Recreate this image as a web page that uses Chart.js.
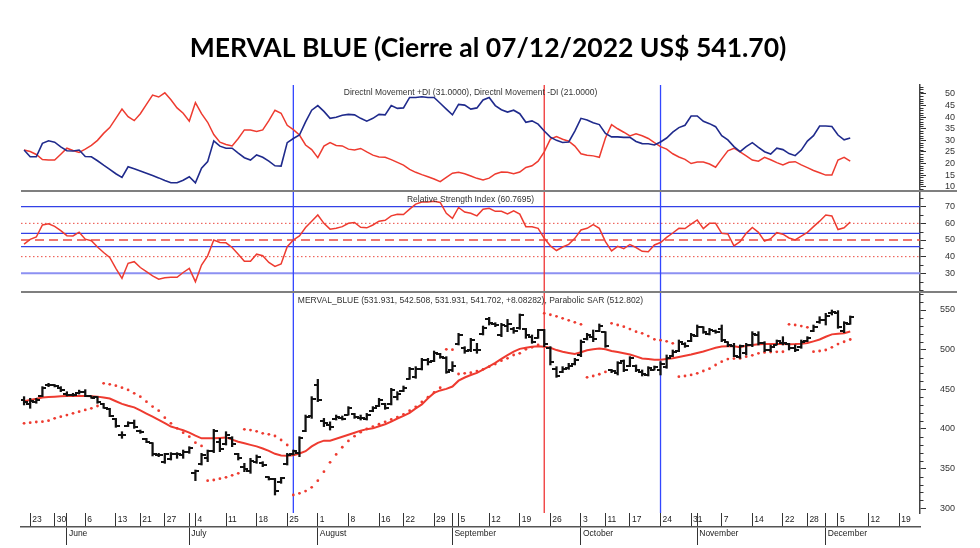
<!DOCTYPE html>
<html><head><meta charset="utf-8">
<script src="https://cdn.jsdelivr.net/npm/chart.js@4.4.0/dist/chart.umd.min.js"></script>
<style>html,body{margin:0;padding:0;background:#fff;}canvas{display:block;}</style>
</head><body>
<canvas id="c" width="980" height="548"></canvas>
<script>
const titleText = 'MERVAL BLUE (Cierre al 07/12/2022 US$ 541.70)';
const diLabel = 'Directnl Movement +DI (31.0000), Directnl Movement -DI (21.0000)';
const rsiLabel = 'Relative Strength Index (60.7695)';
const priceLabel = 'MERVAL_BLUE (531.931, 542.508, 531.931, 541.702, +8.08282), Parabolic SAR (512.802)';
const year = 2022;
const monthNames = ['January','February','March','April','May','June','July','August','September','October','November','December'];

// trading days (MM-DD)
const dates = ['05-20','05-23','05-24','05-26','05-27','05-30','05-31',
'06-01','06-02','06-03','06-06','06-07','06-08','06-09','06-10','06-13','06-14','06-15','06-16','06-21','06-22','06-23','06-24','06-27','06-28','06-29','06-30',
'07-01','07-04','07-05','07-06','07-07','07-08','07-11','07-12','07-13','07-14','07-15','07-18','07-19','07-20','07-21','07-22','07-25','07-26','07-27','07-28','07-29',
'08-01','08-02','08-03','08-04','08-05','08-08','08-09','08-10','08-11','08-12','08-16','08-17','08-18','08-19','08-22','08-23','08-24','08-25','08-26','08-29','08-30','08-31',
'09-01','09-05','09-06','09-07','09-08','09-09','09-12','09-13','09-14','09-15','09-16','09-19','09-20','09-21','09-22','09-23','09-26','09-27','09-28','09-29','09-30',
'10-03','10-04','10-05','10-06','10-11','10-12','10-13','10-14','10-17','10-18','10-19','10-20','10-21','10-24','10-25','10-26','10-27','10-28','10-31',
'11-01','11-02','11-03','11-04','11-07','11-08','11-09','11-10','11-11','11-14','11-15','11-16','11-17','11-18','11-22','11-23','11-24','11-25','11-28','11-29','11-30',
'12-01','12-02','12-05','12-06','12-07'];
const futureDates = ['12-08','12-09','12-12','12-13','12-14','12-15','12-16','12-19','12-20','12-21','12-22','12-23'];

const open = [436,432,434,441,455,455,452,444,443,445,
447,441,440,432,425,412,393,404,408,398,
388,382,367,358,362,368,367,371,344,356,
364,372,384,381,389,368,352,347,359,357,
339,337,333,356,369,370,398,416,455,410,
405,413,414,418,419,414,413,423,429,431,
432,440,448,463,465,476,487,486,494,489,
474,507,502,500,500,520,539,532,518,530,
526,527,526,516,515,525,502,476,472,477,
482,493,513,516,524,522,474,470,486,480,
479,472,468,475,474,478,492,498,507,511,
517,528,520,524,526,510,505,491,496,506,
519,508,500,506,509,507,502,503,511,524,
535,537,546,546,524,531.931];
const high = [440.8,438.7,438.7,453.4,457.6,456,453.4,447,445,449,
449.6,441.6,440.8,432.4,426.1,413.4,396.6,409.2,411.3,398.7,
388.2,382.8,369.3,369.3,370.2,370.2,373.5,377.7,348.3,369.3,
373.5,399.6,388.2,396.6,390.3,369.3,356.7,363,367.2,358.8,
339.9,337.8,339,369.3,373.5,390.3,417.6,440.8,462.6,413.4,
409,417.6,416.4,428.2,419.7,417.6,419.7,428.2,438.7,432.4,
451.3,447.1,454.2,477.7,478.6,489.1,489.1,498.3,495.4,491.2,
484.9,520.6,503.8,514.3,508,529.8,540.8,534,533.2,538.2,
528.2,545,526.9,518.5,525.6,525.6,503.8,478.6,478.6,482.8,
489.1,512.2,520.6,524.8,532.4,522.7,475.2,484.9,487,491.2,
480.7,474.4,478.6,479.4,484.9,493.3,499.6,512.2,508.8,520.6,
531.1,529,526.9,524.8,531.1,510.1,508,505.9,508,522.7,
522.7,510.1,505.9,512.2,516.4,508,505.9,512.2,516.4,531.1,
541.6,545.8,550,549.2,535.3,542.508];
const low = [430.3,426.1,432.4,440.8,453.4,453,447.1,441.6,441.6,444,
440.8,438.7,432.4,426.1,415.5,402.1,388.2,403,400.8,394.5,
382.8,366,365.1,356.7,360.9,363,363,369.3,334.9,354.6,
358.8,370.2,371.4,379.8,377.7,360.9,346.2,344.1,356.7,352.5,
335.7,316.8,331.5,354.6,367.2,365.1,396.6,413.4,434.5,403,
398.7,411.3,411.3,417.6,413.4,411.3,411.3,421.8,428.2,424.8,
430.3,436.6,447.1,462.6,463.9,474.4,480.7,484.9,489.1,470.2,
472.3,505.9,495.4,497.5,495.4,518.5,531.1,529,516.4,522.7,
520.6,525.6,514.3,508,514.3,503.8,480.7,465.1,471,475.2,
480.7,491.2,512.2,510.1,522.7,502.9,471,468.1,472.3,478.6,
472.3,466.8,466.8,474.4,468.1,476.5,491.2,497.5,502.9,510.1,
516.4,520.6,518.5,520.6,510.1,503.8,491.2,489.1,493.3,503.8,
505.9,497.5,497.5,505.9,505.9,499.6,497.5,501.7,510.1,522.7,
533.2,531.1,543.7,526.9,521.4,531.931];
const close = [434,435,437,452,456,454,449,443,443,447,
442,439,434,427,417,404,392,408,402,396,
384,368,367,368,369,368,371,376,347,367,
372,398,375,392,381,364,349,360,365,355,
337,322,338,367,372,389,415,438,436,407,
402,415,413,427,415,414,418,427,436,427,
449,444,452,476,476,487,484,496,491,472,
480,518,498,512,499,527,534,531,531,532,
523,544,518,510,525,507,485,467,476,480,
487,510,518,514,530,504,473,483,475,489,
474,469,477,478,482,490,497,510,504,518,
528,522,525,522,512,506,492,504,506,520,
508,500,503,511,508,502,500,510,515,529,
538,543,547,529,533.6,541.702];
const movingAvg = [435,436.5,438,439.7,440.3,440.8,441.2,441.6,441.6,441.6,
441.6,441.3,440.8,439.7,438.4,435,431.7,429.4,427.3,423.5,
419.5,415.5,411.6,407.5,403.1,400.8,398.4,395.5,391.6,388.2,
388.2,388.2,388.8,389.4,386.6,384,382,380,378.1,375.4,
372.5,368.7,366.6,366.4,367,369.2,372,378,382.5,385.3,
385.3,387.7,390.2,392.8,395.3,397.9,399.8,400.8,403.4,406,
409.3,413.2,416.6,420.4,425.9,431,438.7,445.5,448.6,450.6,
453.5,460.9,464.9,468.1,470.8,474.8,479,483.3,488.3,493.1,
497.5,501,502.4,503.8,504.4,503.8,502.4,499.5,497.3,495.9,
494.5,496.8,499.2,500.5,501.4,500.5,498.4,497,495.6,494,
491.5,489,488.2,487.4,487.3,488.2,489.2,490.8,492.3,493.9,
495.8,497.8,500.1,502.4,503.9,504.3,504.4,503.1,504.9,505.8,
506.7,507.1,507.1,507.1,507,506.8,507,507.5,508.3,510.5,
512.8,516.3,519.3,520,520.7,523];
const sar = [407.1,408,408.8,409.2,410.5,413.4,415.5,417.6,419.7,421.8,
424,426.1,429,457.6,456.3,454.6,452.1,449.2,445,440.8,
434.5,428.2,423.1,414.3,407.1,400.8,395.4,390.3,382.8,378.6,
334.9,335.7,337.4,339.1,341.6,344.1,399.6,398.7,397.1,394.5,
393.3,391.2,386.1,379.8,316.8,318.9,321.8,326.5,334.9,346.2,
358,368,377,385,391,396,400,403,406,409,
412,415,418.5,423,428,434,440,446,452,500.4,
500,469.3,470.2,471,473,475.2,478.6,481.9,486.1,489.1,
493.3,495.4,500.4,503,506,545.8,544,542,539.5,537,
534.5,532,465.1,466.8,469,472,533.2,531.1,529,526,
522.7,520.6,517.2,513,512,510.5,508,466,466.8,468.1,
470.2,473.1,476.1,480.7,484.9,488.2,488.8,489,491.2,492.9,
495.4,496.5,497,497.3,497.4,532,531.1,529.8,528.2,497.5,
498.3,499.6,503,507.1,510,512.8];
const diPlus = [25.8,22.9,22.9,28.7,29.8,29.2,27.2,25.5,25.4,25.8,
23.0,22.9,21.2,19.3,17.5,15.6,14.0,18.6,17.7,16.8,
15.8,14.8,13.8,12.7,11.7,11.7,12.8,14.3,11.7,18.0,
20.8,29.8,27.5,26.6,26.6,24.5,22.5,21.5,23.7,22.7,
21.0,19.0,18.9,29.0,30.8,32.3,38.0,43.0,45.0,42.5,
39.5,40.0,40.8,41.2,41.0,39.5,38.3,39.5,41.2,41.0,
45.0,43.8,44.0,48.5,48.5,48.8,48.5,48.5,46.0,43.5,
41.0,45.5,45.2,43.5,44.0,47.4,48.5,45.0,43.2,42.2,
43.0,41.5,37.8,38.4,37.0,34.0,31.4,30.0,29.1,29.3,
34.0,39.5,38.8,37.6,36.8,33.0,31.5,31.5,31.3,31.3,
29.5,28.6,28.5,28.0,29.3,31.0,33.5,35.5,36.5,40.5,
40.5,38.2,37.2,35.9,32.0,30.2,27.3,25.1,27.3,29.0,
27.0,25.1,24.1,26.6,26.0,24.3,23.4,25.8,29.7,32.0,
36.2,36.2,36.0,32.3,30.2,31.0];
const diMinus = [25.8,25.2,23.9,21.7,21.5,21.5,24.0,26.6,25.6,24.8,
26.2,27.8,30.0,33.0,35.5,39.5,43.5,40.2,38.5,41.5,
45.5,49.5,48.7,50.5,47.5,44.0,41.7,38.3,46.3,41.5,
37.8,32.5,29.2,28.2,27.6,30.8,34.5,34.5,33.8,34.5,
38.5,43.0,41.7,36.5,34.6,32.3,28.0,26.0,22.5,27.5,
29.0,27.8,27.6,26.2,25.8,26.5,25.0,23.6,22.8,22.7,
21.7,20.5,19.3,17.5,16.2,15.2,14.3,13.3,12.2,14.0,
15.8,16.2,15.6,14.6,13.6,12.9,13.7,15.5,16.3,16.2,
15.6,16.3,18.3,19.0,21.0,25.0,30.5,31.6,30.5,29.6,
27.5,24.2,23.6,23.3,22.7,31.0,36.8,35.0,33.5,31.9,
32.8,32.0,30.8,29.0,27.3,26.2,24.2,22.8,21.8,20.0,
20.6,20.6,19.8,18.4,22.0,25.5,26.6,25.0,23.3,21.5,
21.0,22.7,21.6,20.4,19.4,20.5,20.8,19.4,18.2,17.0,
16.0,15.0,15.0,21.5,22.7,21.0];
const rsi = [47.5,50.4,51.8,59.0,59.7,58.2,55.6,52.6,52.4,54.7,
50.5,49.6,45.8,42.5,39.5,33.0,27.0,36.0,37.0,33.5,
31.0,28.5,26.5,27.3,27.6,27.6,30.5,33.0,25.0,35.0,
40.5,50.0,48.5,48.3,45.5,41.5,37.3,37.3,41.5,40.6,
36.5,34.2,35.6,46.0,50.0,52.5,57.5,61.2,65.0,60.0,
56.5,57.0,58.0,60.0,60.5,57.6,57.3,59.0,61.3,61.8,
64.5,65.5,65.3,68.5,71.5,72.8,72.8,73.3,72.5,66.0,
63.0,69.5,66.8,66.0,64.5,68.5,69.0,67.2,67.2,65.6,
67.5,65.5,58.0,58.0,57.0,51.0,46.5,43.7,45.8,47.4,
51.0,56.0,57.0,59.2,57.0,49.0,43.5,46.2,44.8,47.3,
45.5,43.2,43.0,47.0,48.5,51.6,54.2,57.0,56.9,59.5,
62.0,56.8,60.0,60.0,54.0,53.6,46.5,49.0,54.0,57.5,
54.6,49.3,50.8,54.4,53.5,51.2,50.0,52.3,54.6,58.0,
61.3,65.0,64.4,56.3,57.3,60.77];

const diTickLabels = [10,15,20,25,30,35,40,45,50];
const rsiTickLabels = [30,40,50,60,70];
const priceTickLabels = [300,350,400,450,500,550];
const rsiBlueLevels = [70,54,46];
const rsiLightLevels = [30];
const rsiDotLevels = [60,40];
const rsiMidLevels = [50];
const markerDates = ['07-26','09-23','10-24'];
const markerColors = ['#3246ff','#f03434','#3246ff'];

// ---- derived helpers ----
const allDates = dates.concat(futureDates);
const X_MIN = -0.5, X_MAX = 146.4;
const dayNum = s => Date.UTC(year, +s.slice(0,2)-1, +s.slice(3,5)) / 86400000;
const weekOf = s => Math.floor((dayNum(s) + 3) / 7);
const weekStarts = [], monthStarts = [];
allDates.forEach((d,i) => {
  if (i === 0 || i > X_MAX) return;
  if (weekOf(d) !== weekOf(allDates[i-1])) weekStarts.push(i);
  if (d.slice(0,2) !== allDates[i-1].slice(0,2)) monthStarts.push(i);
});
const range = (a,b,s) => { const r=[]; for (let v=a; v<=b+1e-9; v+=s) r.push(Math.round(v*100)/100); return r; };
const pts = arr => arr.map((v,i) => ({x:i, y:v}));

const RED = '#ee3b30', NAVY = '#1f2a8c';
const tickFont = {family:'Liberation Sans', size:9};
const smallFont = {family:'Liberation Sans', size:8.5};

function tickImage(side){
  const c = document.createElement('canvas'); c.width = 8; c.height = 2;
  const g = c.getContext('2d'); g.fillStyle = '#111';
  if (side === 'L') g.fillRect(0,0,4,2); else g.fillRect(4,0,4,2);
  return c;
}
const openImg = tickImage('L'), closeImg = tickImage('R');

const mc = document.createElement('canvas').getContext('2d');
mc.font = 'bold 100px Lato';
const titleSize = 100 * 597 / mc.measureText(titleText).width;
const titleLH = titleSize * 1.2;
const titlePadTop = 48 - titleLH/2;

function yAxis(id, min, max, step, labels, weight, stackWeight, pad){
  const lab = new Set(labels);
  return {
    type:'linear', position:'right', stack:'panels', stackWeight, weight, min, max,
    afterBuildTicks: s => { s.ticks = range(Math.ceil(min/step)*step, Math.floor(max/step)*step, step).map(v => ({value:v})); },
    afterFit: s => { s.width = 35; },
    grid:{display:true, drawOnChartArea:false, drawTicks:true, tickLength:6, tickWidth:1,
      tickColor: c => (c.tick && lab.has(c.tick.value)) ? '#333' : 'rgba(0,0,0,0)'},
    border:{display:true, color:'#444', width:1.5},
    ticks:{autoSkip:false, crossAlign:'far', padding:pad, font:tickFont, color:'#333',
      callback: v => lab.has(v) ? String(v) : ''}
  };
}

const overlay = {
  id:'overlay',
  beforeDatasetsDraw(chart){
    const {ctx, chartArea:ca, scales} = chart;
    const yR = scales.yRSI;
    ctx.save();
    const hline = (v, color, w, dash) => {
      const y = yR.getPixelForValue(v);
      ctx.beginPath(); ctx.strokeStyle = color; ctx.lineWidth = w; ctx.setLineDash(dash);
      ctx.moveTo(ca.left, y); ctx.lineTo(ca.right, y); ctx.stroke();
    };
    rsiLightLevels.forEach(v => hline(v, '#8c90f2', 2, []));
    rsiBlueLevels.forEach(v => hline(v, '#3341e6', 1.2, []));
    rsiDotLevels.forEach(v => hline(v, '#ec4a40', 1, [1.5,2.5]));
    rsiMidLevels.forEach(v => hline(v, '#ec4a40', 1.5, [9,5]));
    ctx.setLineDash([]);
    markerDates.forEach((d,k) => {
      const x = scales.x.getPixelForValue(allDates.indexOf(d));
      ctx.beginPath(); ctx.strokeStyle = markerColors[k]; ctx.lineWidth = 1.3;
      ctx.moveTo(x, ca.top); ctx.lineTo(x, ca.bottom); ctx.stroke();
    });
    ctx.restore();
  },
  afterDraw(chart){
    const {ctx, chartArea:ca, scales} = chart;
    ctx.save();
    // minor ticks
    [['yDI',diTickLabels],['yRSI',rsiTickLabels],['yP',priceTickLabels]].forEach(([id,labs]) => {
      const s = scales[id];
      ctx.strokeStyle = '#333'; ctx.lineWidth = 1;
      s.ticks.forEach(t => {
        if (labs.includes(t.value)) return;
        const y = Math.round(s.getPixelForValue(t.value)) + 0.5;
        ctx.beginPath(); ctx.moveTo(s.left, y); ctx.lineTo(s.left + 3.5, y); ctx.stroke();
      });
    });
    // panel separators
    ctx.strokeStyle = '#7f7f7f'; ctx.lineWidth = 2;
    [scales.yRSI.top, scales.yRSI.bottom].forEach(y => {
      ctx.beginPath(); ctx.moveTo(ca.left, y); ctx.lineTo(chart.width - 23, y); ctx.stroke();
    });
    // panel captions
    ctx.fillStyle = '#333'; ctx.font = '8.5px "Liberation Sans"';
    ctx.textAlign = 'center'; ctx.textBaseline = 'middle';
    const cx = (ca.left + ca.right) / 2;
    ctx.fillText(diLabel, cx, scales.yDI.top + 8);
    ctx.fillText(rsiLabel, cx, scales.yRSI.top + 9);
    ctx.fillText(priceLabel, cx, scales.yP.top + 8.5);
    ctx.restore();
  }
};

new Chart(document.getElementById('c'), {
  type:'line',
  data:{
    datasets:[
      {type:'line', label:'Open', data:pts(open), yAxisID:'yP', xAxisID:'x', showLine:false, pointStyle:openImg, pointRadius:3, pointHoverRadius:3},
      {type:'line', label:'Close', data:pts(close), yAxisID:'yP', xAxisID:'x', showLine:false, pointStyle:closeImg, pointRadius:3, pointHoverRadius:3},
      {type:'bar', label:'High-Low', data:dates.map((d,i) => ({x:i, y:[low[i], high[i]]})), yAxisID:'yP', xAxisID:'x', backgroundColor:'#111', borderWidth:0, barThickness:1.6},
      {type:'line', label:'Parabolic SAR', data:pts(sar), yAxisID:'yP', xAxisID:'x', showLine:false, pointRadius:1.4, pointBackgroundColor:RED, pointBorderWidth:0},
      {type:'line', label:'MA', data:pts(movingAvg), yAxisID:'yP', xAxisID:'x', borderColor:RED, borderWidth:2, pointRadius:0, tension:0},
      {type:'line', label:'RSI', data:pts(rsi), yAxisID:'yRSI', xAxisID:'x', borderColor:RED, borderWidth:1.5, pointRadius:0, tension:0},
      {type:'line', label:'+DI', data:pts(diPlus), yAxisID:'yDI', xAxisID:'x', borderColor:NAVY, borderWidth:1.6, pointRadius:0, tension:0},
      {type:'line', label:'-DI', data:pts(diMinus), yAxisID:'yDI', xAxisID:'x', borderColor:RED, borderWidth:1.5, pointRadius:0, tension:0}
    ]
  },
  options:{
    responsive:false, devicePixelRatio:1, animation:false, events:[],
    layout:{padding:{left:21, right:25, top:0, bottom:0}},
    plugins:{
      legend:{display:false}, tooltip:{enabled:false},
      title:{display:true, text:titleText, color:'#000',
        font:{family:'Lato', weight:'bold', size:titleSize, lineHeight:1.2},
        padding:{top:titlePadTop, bottom:85 - titlePadTop - titleLH}}
    },
    scales:{
      x:{type:'linear', position:'bottom', weight:1, min:X_MIN, max:X_MAX, offset:false,
        afterBuildTicks: s => { s.ticks = [...new Set(weekStarts.concat(monthStarts))].sort((a,b)=>a-b).map(v => ({value:v})); },
        afterFit: s => { s.height = 14; },
        grid:{display:true, drawOnChartArea:false, drawTicks:true, tickLength:14, tickColor:'#333', tickWidth:1, offset:false},
        border:{display:false},
        ticks:{autoSkip:false, maxRotation:0, minRotation:0, align:'start', labelOffset:2, padding:-12, font:smallFont, color:'#222',
          callback: v => weekStarts.includes(v) ? String(+allDates[v].slice(3,5)) : ''}
      },
      xm:{type:'linear', axis:'x', position:'bottom', weight:2, min:X_MIN, max:X_MAX, offset:false,
        afterBuildTicks: s => { s.ticks = monthStarts.map(v => ({value:v})); },
        afterFit: s => { s.height = 21; },
        grid:{display:true, drawOnChartArea:false, drawTicks:true, tickLength:18, tickColor:'#333', tickWidth:1, offset:false},
        border:{display:true, color:'#555', width:1.5},
        ticks:{autoSkip:false, maxRotation:0, minRotation:0, align:'start', labelOffset:2, padding:-16, font:smallFont, color:'#222',
          callback: v => monthNames[+allDates[v].slice(0,2) - 1]}
      },
      yDI: yAxis('yDI', 8.14, 53.88, 1, diTickLabels, 1, 106, 19),
      yRSI: yAxis('yRSI', 18.8, 79.4, 5, rsiTickLabels, 2, 101, 19),
      yP: yAxis('yP', 294.1, 572.7, 10, priceTickLabels, 3, 221, 14)
    }
  },
  plugins:[overlay]
});
</script>
</body></html>
